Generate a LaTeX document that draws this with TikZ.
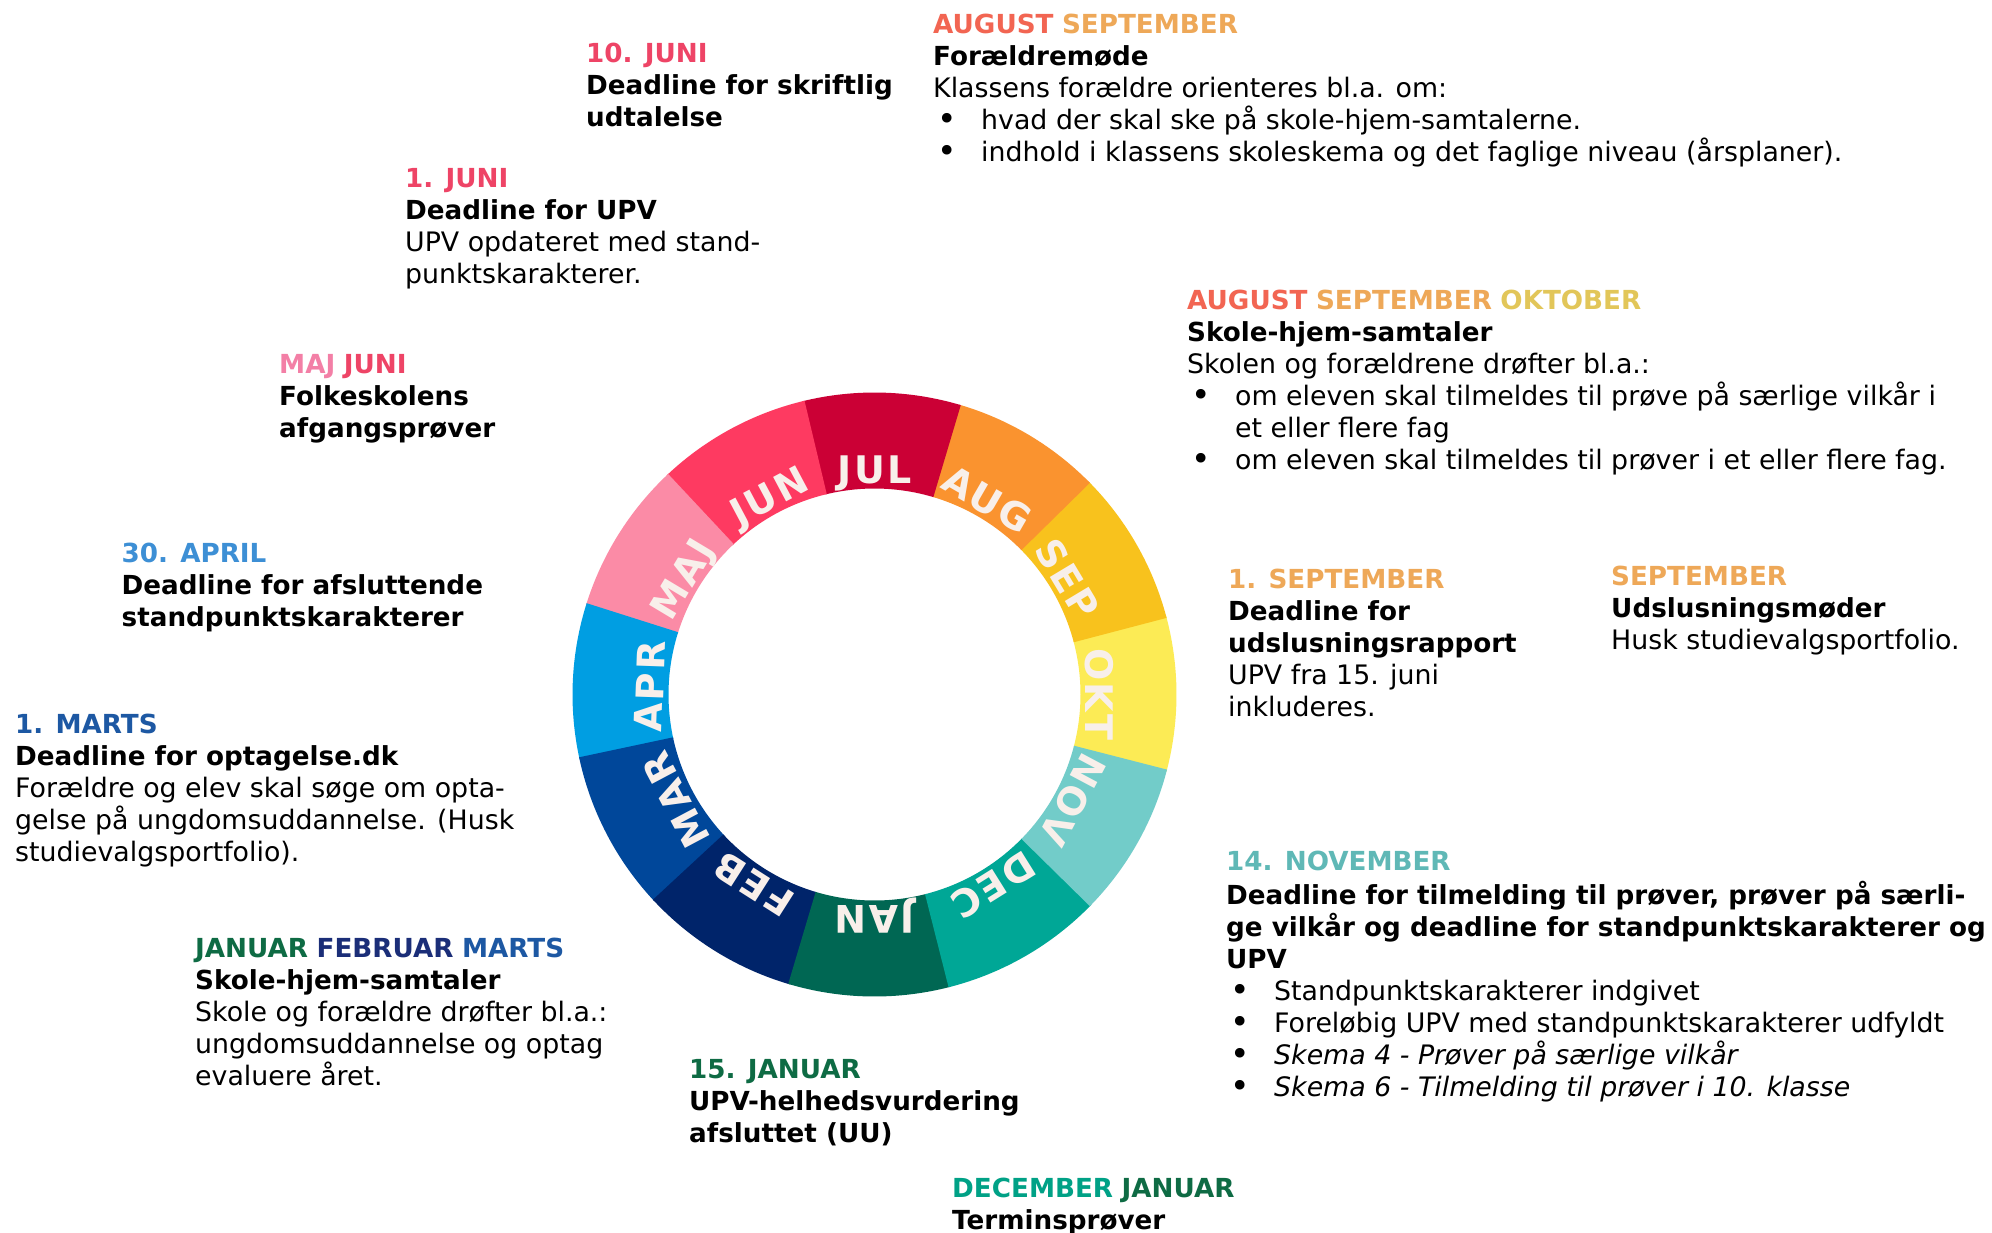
\documentclass[tikz,border=0pt]{standalone}
\usepackage{fontspec}
\setmainfont{DejaVu Sans}[BoldFeatures={Scale=0.978}]
\newfontfamily\ringfont{DejaVu Sans}[LetterSpace=6]
\definecolor{cJUL}{HTML}{CB0035}
\definecolor{cAUG}{HTML}{FA932F}
\definecolor{cSEP}{HTML}{F8C21D}
\definecolor{cOKT}{HTML}{FCEB55}
\definecolor{cNOV}{HTML}{72CCC9}
\definecolor{cDEC}{HTML}{00A796}
\definecolor{cJAN}{HTML}{006753}
\definecolor{cFEB}{HTML}{00246A}
\definecolor{cMAR}{HTML}{00479A}
\definecolor{cAPR}{HTML}{009EE2}
\definecolor{cMAJ}{HTML}{FB8BA6}
\definecolor{cJUN}{HTML}{FE3A61}
\definecolor{ringtxt}{HTML}{F8EFEA}
\definecolor{hJuni}{HTML}{EE4466}
\definecolor{hMaj}{HTML}{F37FA6}
\definecolor{hAug}{HTML}{F26552}
\definecolor{hSep}{HTML}{EEA858}
\definecolor{hOkt}{HTML}{E2C659}
\definecolor{hApr}{HTML}{3D8FD5}
\definecolor{hMar}{HTML}{1D58A3}
\definecolor{hFeb}{HTML}{1B2E78}
\definecolor{hJan}{HTML}{0E6B44}
\definecolor{hNov}{HTML}{5FB8B6}
\definecolor{hDec}{HTML}{00A186}
\newcommand\tf{\fontsize{26.8}{32}\selectfont}
\newcommand\bul{\hspace*{4pt}\makebox[44pt][l]{\raisebox{-1.5pt}{\fontsize{33}{32}\selectfont•}}}
\newcommand\hd[2]{{\bfseries\color{#1}#2}}
\begin{document}
\begin{tikzpicture}[x=1pt,y=-1pt,
  blk/.style={anchor=north west,inner sep=0pt,align=left,font=\tf},
  ringlbl/.style={font=\ringfont\bfseries\fontsize{38}{38}\selectfont,text=ringtxt,inner sep=0pt,text height=27.7pt,text depth=0pt,anchor=center}]
\fill[white] (0,0) rectangle (1992,1232);
\useasboundingbox (0,0) rectangle (1992,1232);

% ring
\begin{scope}[shift={(874.5,694.5)},yscale=-1]
\foreach \a/\b/\c in {-14.8/14.7/cOKT,14.7/44.5/cSEP,44.5/73.4/cAUG,73.4/103.4/cJUL,103.4/133.1/cJUN,133.1/162.4/cMAJ,162.4/192/cAPR,192/222.8/cMAR,222.8/253.4/cFEB,253.4/284.2/cJAN,284.2/315.5/cDEC,315.5/345.2/cNOV}
  \fill[\c] (\a:302) arc[start angle=\a,end angle=\b+0.4,radius=302] -- (\b+0.4:206) arc[start angle=\b+0.4,end angle=\a,radius=206] -- cycle;
\foreach \t/\m in {90/JUL,60/AUG,31/SEP,0/OKT,-28/NOV,-58/DEC,-90/JAN,-122.5/FEB,-152/MAR,178/APR,149/MAJ,118/JUN}
  \node[ringlbl,rotate=\t-90] (m\m) at (\t:225) {\m};
\end{scope}

% text blocks
\node[blk] (b1) at (586,39.6) {\strut\hd{hJuni}{10. JUNI}\\
\textbf{Deadline for skriftlig}\\
\textbf{udtalelse}};

\node[blk] (b2) at (933,10.6) {\strut\hd{hAug}{AUGUST} \hd{hSep}{SEPTEMBER}\\
\textbf{Forældremøde}\\
Klassens forældre orienteres bl.a. om:\\
\bul hvad der skal ske på skole-hjem-samtalerne.\\
\bul indhold i klassens skoleskema og det faglige niveau (årsplaner).};

\node[blk] (b3) at (405,164.6) {\strut\hd{hJuni}{1. JUNI}\\
\textbf{Deadline for UPV}\\
UPV opdateret med stand-\\
punktskarakterer.};

\node[blk] (b4) at (1187,286.6) {\strut\hd{hAug}{AUGUST} \hd{hSep}{SEPTEMBER} \hd{hOkt}{OKTOBER}\\
\textbf{Skole-hjem-samtaler}\\
Skolen og forældrene drøfter bl.a.:\\
\bul om eleven skal tilmeldes til prøve på særlige vilkår i\\
\hspace*{48pt}et eller flere fag\\
\bul om eleven skal tilmeldes til prøver i et eller flere fag.};

\node[blk] (b5) at (279,350.6) {\strut\hd{hMaj}{MAJ} \hd{hJuni}{JUNI}\\
\textbf{Folkeskolens}\\
\textbf{afgangsprøver}};

\node[blk] (b6) at (121.5,539.6) {\strut\hd{hApr}{30. APRIL}\\
\textbf{Deadline for afsluttende}\\
\textbf{standpunktskarakterer}};

\node[blk] (b7) at (1228,565.6) {\strut\hd{hSep}{1. SEPTEMBER}\\
\textbf{Deadline for}\\
\textbf{udslusningsrapport}\\
UPV fra 15. juni\\
inkluderes.};

\node[blk] (b8) at (1611,563.1) {\strut\hd{hSep}{SEPTEMBER}\\
\textbf{Udslusningsmøder}\\
Husk studievalgsportfolio.};

\node[blk] (b9) at (15,710.6) {\strut\hd{hMar}{1. MARTS}\\
\textbf{Deadline for optagelse.dk}\\
Forældre og elev skal søge om opta-\\
gelse på ungdomsuddannelse. (Husk\\
studievalgsportfolio).};

\node[blk] (b10) at (1226,847.6) {\strut\hd{hNov}{14. NOVEMBER}\\
\textbf{Deadline for tilmelding til prøver, prøver på særli-}\\
\textbf{ge vilkår og deadline for standpunktskarakterer og}\\
\textbf{UPV}\\
\bul Standpunktskarakterer indgivet\\
\bul Foreløbig UPV med standpunktskarakterer udfyldt\\
\bul\textit{Skema 4 - Prøver på særlige vilkår}\\
\bul\textit{Skema 6 - Tilmelding til prøver i 10. klasse}};

\node[blk] (b11) at (195,934.6) {\strut\hd{hJan}{JANUAR} \hd{hFeb}{FEBRUAR} \hd{hMar}{MARTS}\\
\textbf{Skole-hjem-samtaler}\\
Skole og forældre drøfter bl.a.:\\
ungdomsuddannelse og optag\\
evaluere året.};

\node[blk] (b12) at (689,1055.6) {\strut\hd{hJan}{15. JANUAR}\\
\textbf{UPV-helhedsvurdering}\\
\textbf{afsluttet (UU)}};

\node[blk] (b13) at (952,1174.6) {\strut\hd{hDec}{DECEMBER} \hd{hJan}{JANUAR}\\
\textbf{Terminsprøver}};
\end{tikzpicture}
\end{document}
